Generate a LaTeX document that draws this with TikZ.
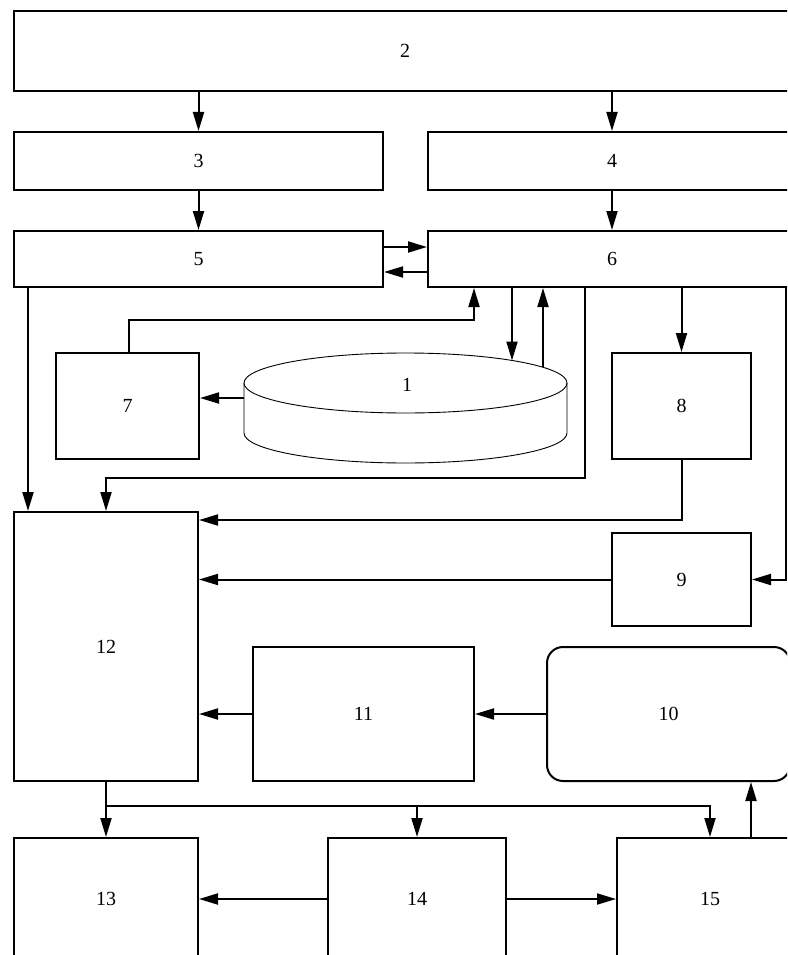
\documentclass[tikz,border=0pt]{standalone}
\usepackage{fontspec}
\setmainfont{Liberation Serif}
\usepackage{tikz}
\usetikzlibrary{arrows.meta, positioning, calc}

\begin{document}
\begin{tikzpicture}[x=1pt, y=-1pt, line width=2pt,
      >={Triangle[length=19pt, width=11pt]},
      every node/.style={font=\fontsize{20}{24}\selectfont},
      blk/.style={draw, rectangle, inner sep=0pt, line width=2pt},
      rblk/.style={blk, rounded corners=16pt}]
    \useasboundingbox (0,0) rectangle (787,955);
    \clip (0,0) rectangle (787,955);
    % boxes
    \node[blk, minimum width=782, minimum height=80] (b2) at (405,51) {2};
    \node[blk, minimum width=369, minimum height=58] (b3) at (198.5,161) {3};
    \node[blk, minimum width=368, minimum height=58] (b4) at (612,161) {4};
    \node[blk, minimum width=369, minimum height=56] (b5) at (198.5,259) {5};
    \node[blk, minimum width=368, minimum height=56] (b6) at (612,259) {6};
    \node[blk, minimum width=143, minimum height=106] (b7) at (127.5,406) {7};
    \node[blk, minimum width=139, minimum height=106] (b8) at (681.5,406) {8};
    \node[blk, minimum width=139, minimum height=93] (b9) at (681.5,579.5) {9};
    \node[rblk, minimum width=243, minimum height=134] (b10) at (668.5,714) {10};
    \node[blk, minimum width=221, minimum height=134] (b11) at (363.5,714) {11};
    \node[blk, minimum width=184, minimum height=269] (b12) at (106,646.5) {12};
    \node[blk, minimum width=184, minimum height=122] (b13) at (106,899) {13};
    \node[blk, minimum width=178, minimum height=122] (b14) at (417,899) {14};
    \node[blk, minimum width=186, minimum height=122] (b15) at (710,899) {15};
    % storage 1
    \begin{scope}[line width=0.9pt]
      \draw (405.5,383) ellipse [x radius=161.5, y radius=30];
      \draw (244,383) -- (244,433)
        arc [start angle=180, end angle=0, x radius=161.5, y radius=30]
        -- (567,383);
    \end{scope}
    \node (db) at (407,385) {1};
    \coordinate (dbin) at (512,360.5);
    \coordinate (dbout) at (543,367);
    \coordinate (dbleft) at (244,398);
    % connectors
    \draw[->] (b2.south -| b3.north) -- (b3.north);
    \draw[->] (b2.south -| b4.north) -- (b4.north);
    \draw[->] (b3.south) -- (b5.north);
    \draw[->] (b4.south) -- (b6.north);
    \draw[->] ([yshift=12]b5.east) -- ([yshift=12]b6.west);
    \draw[->] ([yshift=-13]b6.west) -- ([yshift=-13]b5.east);
    \coordinate (c7) at (474,320);
    \draw[->] ([xshift=1.5]b7.north) |- (c7) -- (c7 |- b6.south);
    \draw[->] (dbin |- b6.south) -- (dbin);
    \draw[->] (dbout) -- (dbout |- b6.south);
    \draw[->] (dbleft) -- (dbleft -| b7.east);
    \draw[->] ([xshift=15]b5.south west) -- ([xshift=15]b12.north west);
    \coordinate (c12) at (106,478);
    \draw[->] ([xshift=-27]b6.south) |- (c12) -- (b12.north);
    \draw[->] (b6.south -| b8.north) -- (b8.north);
    \coordinate (c8) at (0,520);
    \draw[->] (b8.south) -- (b8.south |- c8) -- (b12.east |- c8);
    \draw[->] ([xshift=174]b6.south) |- (b9.east);
    \draw[->] (b9.west) -- (b9.west -| b12.east);
    \draw[->] (b10.west) -- (b11.east);
    \draw[->] (b11.west) -- (b11.west -| b12.east);
    \coordinate (bus) at (0,806);
    \draw[->] (b12.south) -- (b13.north);
    \draw[->] (b12.south |- bus) -| (b15.north);
    \draw[->] (b14.north |- bus) -- (b14.north);
    \draw[->] ([xshift=41]b15.north) -- ([xshift=41]b15.north |- b10.south);
    \draw[->] (b14.west) -- (b13.east);
    \draw[->] (b14.east) -- (b15.west);
  \end{tikzpicture}
\end{document}
